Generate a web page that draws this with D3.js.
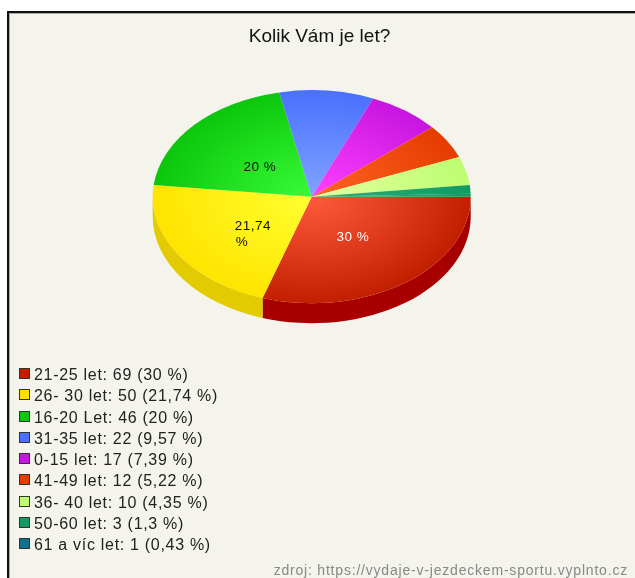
<!DOCTYPE html>
<html>
<head>
<meta charset="utf-8">
<script src="https://cdn.jsdelivr.net/npm/d3@7"></script>
<style>
  html, body { margin: 0; padding: 0; background: #fff; }
  svg { display: block; filter: blur(0.35px); }
  text { font-family: "Liberation Sans", Arial, sans-serif; }
</style>
</head>
<body>
<div id="wrapper"></div>
<script>
const title = "Kolik Vám je let?";
const source = "zdroj: https://vydaje-v-jezdeckem-sportu.vyplnto.cz";
const categories = ["21-25 let", "26- 30 let", "16-20 Let", "31-35 let", "0-15 let", "41-49 let", "36- 40 let", "50-60 let", "61 a víc let"];
const counts = [69, 50, 46, 22, 17, 12, 10, 3, 1];
const percents = ["30", "21,74", "20", "9,57", "7,39", "5,22", "4,35", "1,3", "0,43"];
const legendColors = ["#c21f00", "#ffe000", "#0cc60c", "#4a70ff", "#c815e0", "#e63c00", "#bdfd70", "#129a62", "#10708f"];
// the last slice is too thin to tell apart in the pie, it reads as part of the 50-60 stripe
const edgeColors = ["#c21f00", "#ffe400", "#0cc60c", "#4a70ff", "#c815e0", "#e63c00", "#bdfd70", "#129a62", "#129a62"];
const midColors = ["#ff5a3c", "#ffff30", "#38fb38", "#80a4ff", "#ff40ff", "#ff6424", "#e4ffa0", "#2cb078", "#2cb078"];
const sideColors = ["#a80000", "#e2cb00"];

// 1. Dimensions

const dimensions = {
    width: 635,
    height: 578,
    frameLeft: 7,
    frameTop: 11,
    pieX: 311.7,
    pieY: 196.7,
    rx: 159,
    ry: 106.5,
    depth: 20,
    labelRadius: 0.44,
    legendX: 19,
    legendY: 374,
    legendStep: 21.25
};

// 2. Draw canvas

const wrapper = d3.select("#wrapper")
    .append("svg")
    .attr("width", dimensions.width)
    .attr("height", dimensions.height);

wrapper.append("rect")
    .attr("x", dimensions.frameLeft)
    .attr("y", dimensions.frameTop)
    .attr("width", dimensions.width - dimensions.frameLeft)
    .attr("height", dimensions.height - dimensions.frameTop)
    .attr("fill", "#f4f4ec");

wrapper.append("path")
    .attr("d", `M${dimensions.frameLeft + 2.5},${dimensions.height}V${dimensions.frameTop + 2.5}H${dimensions.width}`)
    .attr("fill", "none")
    .attr("stroke", "#aaa");

wrapper.append("path")
    .attr("d", `M${dimensions.frameLeft + 1},${dimensions.height}V${dimensions.frameTop + 1}H${dimensions.width}`)
    .attr("fill", "none")
    .attr("stroke", "#111")
    .attr("stroke-width", 2);

wrapper.append("text")
    .attr("x", 319.5)
    .attr("y", 42)
    .attr("text-anchor", "middle")
    .attr("font-size", 19)
    .attr("fill", "#111")
    .text(title);

// 3. Pie layout, starts at 3 o'clock and runs clockwise

const pieLayout = d3.pie()
    .sort(null)
    .startAngle(Math.PI / 2)
    .endAngle(Math.PI * 2.5);

const slices = pieLayout(counts);

const arcGenerator = d3.arc()
    .innerRadius(0)
    .outerRadius(dimensions.rx);

const defs = wrapper.append("defs");

slices.forEach((d, i) => {
    const gradient = defs.append("radialGradient")
        .attr("id", `slice-${i}`)
        .attr("gradientUnits", "userSpaceOnUse")
        .attr("cx", 0)
        .attr("cy", 0)
        .attr("r", dimensions.rx);
    gradient.append("stop").attr("offset", "0%").attr("stop-color", midColors[i]);
    gradient.append("stop").attr("offset", "50%").attr("stop-color", d3.interpolateRgb(midColors[i], edgeColors[i])(0.5));
    gradient.append("stop").attr("offset", "100%").attr("stop-color", edgeColors[i]);
});

const pie = wrapper.append("g")
    .attr("transform", `translate(${dimensions.pieX},${dimensions.pieY})`);

// 4. Side wall, only the part of each slice that faces the viewer

const pointAt = (angle, dy) => [
    dimensions.rx * Math.sin(angle),
    -dimensions.ry * Math.cos(angle) + dy
];

const sidePath = d => {
    const a0 = Math.max(d.startAngle, Math.PI / 2);
    const a1 = Math.min(d.endAngle, Math.PI * 1.5);
    const [x0, y0] = pointAt(a0, 0);
    const [x1, y1] = pointAt(a1, 0);
    const [x2, y2] = pointAt(a1, dimensions.depth);
    const [x3, y3] = pointAt(a0, dimensions.depth);
    return `M${x0},${y0}A${dimensions.rx},${dimensions.ry} 0 0 1 ${x1},${y1}`
        + `L${x2},${y2}A${dimensions.rx},${dimensions.ry} 0 0 0 ${x3},${y3}Z`;
};

pie.selectAll(".side")
    .data(slices.filter(d => d.startAngle < Math.PI * 1.5))
    .join("path")
    .attr("class", "side")
    .attr("d", sidePath)
    .attr("fill", (d, i) => sideColors[i]);

// 5. Top face

pie.append("g")
    .attr("transform", `scale(1,${dimensions.ry / dimensions.rx})`)
    .selectAll(".slice")
    .data(slices)
    .join("path")
    .attr("class", "slice")
    .attr("d", arcGenerator)
    .attr("fill", (d, i) => `url(#slice-${i})`);

// 6. Slice labels, only the three biggest slices get one

const labelColors = ["#fff", "#111", "#111"];

slices.slice(0, 3).forEach((d, i) => {
    const angle = (d.startAngle + d.endAngle) / 2;
    const [x, y] = pointAt(angle, 0);
    const label = pie.append("text")
        .attr("font-size", 13.5)
        .attr("letter-spacing", 0.5)
        .attr("text-anchor", "middle")
        .attr("fill", labelColors[i])
        .attr("transform", `translate(${x * dimensions.labelRadius},${y * dimensions.labelRadius + 6})`);
    if (i === 1) {
        label.append("tspan").attr("x", 0).attr("dy", 2).text(percents[i]);
        label.append("tspan").attr("x", -11).attr("dy", 15.5).text("%");
    } else {
        label.text(`${percents[i]} %`);
    }
});

// 7. Legend

const legend = wrapper.append("g");

const rows = legend.selectAll("g")
    .data(categories)
    .join("g")
    .attr("transform", (d, i) => `translate(${dimensions.legendX},${Math.round(dimensions.legendY + i * dimensions.legendStep)})`);

rows.append("rect")
    .attr("x", 0.5)
    .attr("y", -5.5)
    .attr("width", 10)
    .attr("height", 10)
    .attr("fill", (d, i) => legendColors[i])
    .attr("stroke", "#333");

rows.append("text")
    .attr("x", 15)
    .attr("y", 6)
    .attr("font-size", 16)
    .attr("letter-spacing", 0.7)
    .attr("fill", "#222")
    .text((d, i) => `${d}: ${counts[i]} (${percents[i]} %)`);

wrapper.append("text")
    .attr("x", 628)
    .attr("y", 575)
    .attr("text-anchor", "end")
    .attr("font-size", 14)
    .attr("letter-spacing", 0.8)
    .attr("fill", "#888")
    .text(source);
</script>
</body>
</html>
